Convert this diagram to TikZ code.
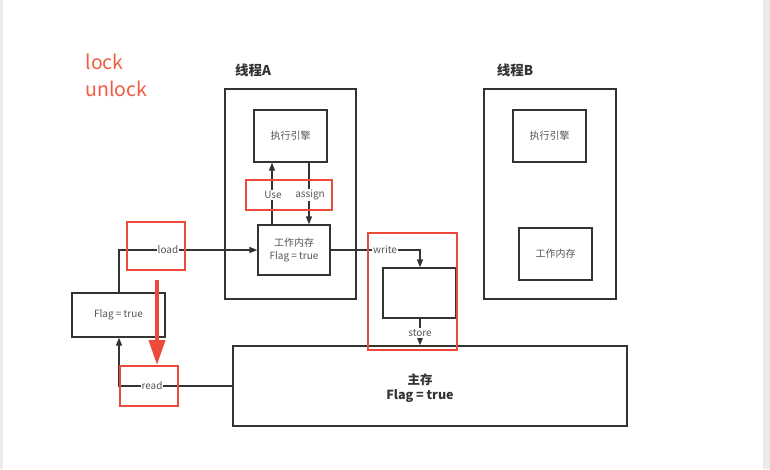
\documentclass[tikz,border=0pt]{standalone}
\usepackage{fontspec}
\setmainfont{Noto Sans CJK SC}
\usetikzlibrary{arrows.meta}
\definecolor{ln}{HTML}{333333}
\definecolor{tx}{HTML}{555555}
\definecolor{rd}{HTML}{EC4B3B}
\definecolor{lk}{HTML}{F25C45}
\definecolor{edge}{HTML}{EBEBEB}
\begin{document}
\begin{tikzpicture}[x=1pt,y=-1pt,
  box/.style={draw=ln,line width=1.3pt,rectangle,inner sep=0pt,align=center,text=tx,font=\fontsize{10}{12.5}\selectfont},
  redbox/.style={draw=rd,line width=2pt},
  conn/.style={draw=ln,line width=1.3pt},
  arr/.style={conn,-{Triangle[length=8pt,width=6pt]}},
  lbl/.style={fill=white,inner sep=1pt,text=tx,font=\fontsize{10}{12}\selectfont},
  ttl/.style={font=\fontsize{13.5}{16}\selectfont\bfseries,text=ln}]
\useasboundingbox (0,0) rectangle (770,469);
\fill[edge] (0,0) rectangle (770,469);
\fill[white] (3,0) rectangle (763,469);

% lock / unlock
\node[anchor=west,text=lk,font=\fontsize{19.5}{22}\selectfont] (lock) at (82,62) {lock};
\node[anchor=west,text=lk,font=\fontsize{19.5}{22}\selectfont] (unlock) at (82,89) {unlock};

% thread A
\node[ttl] (tA) at (253,70) {线程A};
\node[box,minimum width=131pt,minimum height=210pt] (threadA) at (290.5,194) {};
\node[box,minimum width=73pt,minimum height=52pt] (engA) at (290.5,136) {执行引擎};
\node[box,minimum width=72pt,minimum height=50pt] (wmA) at (294,250) {工作内存\\Flag = true};

% thread B
\node[ttl] (tB) at (515,70) {线程B};
\node[box,minimum width=132pt,minimum height=210pt] (threadB) at (550,194) {};
\node[box,minimum width=73pt,minimum height=52pt] (engB) at (549.5,136) {执行引擎};
\node[box,minimum width=73pt,minimum height=52pt] (wmB) at (555.5,254) {工作内存};

% left flag box
\node[box,minimum width=93pt,minimum height=44pt] (flag) at (118.5,315) {Flag = true};

% store box
\node[box,minimum width=73pt,minimum height=50pt] (st) at (419.5,293) {};

% main memory
\node[box,minimum width=394pt,minimum height=80pt] (main) at (430,386) {};
\node[align=center,text=ln,font=\fontsize{12.5}{15}\selectfont\bfseries] (mainT) at (420,388) {主存\\Flag = true};

% Use / assign
\draw[arr] (wmA.north -| 272,0) -- (engA.south -| 272,0);
\node[lbl] (use) at (273,195) {Use};
\draw[arr] (engA.south -| 309,0) -- (wmA.north -| 309,0);
\node[lbl] (assign) at (310,195) {assign};

% load
\coordinate (ldc) at (119,250);
\draw[arr] (flag.north -| ldc) -- (ldc) -- (wmA.west |- ldc);
\node[lbl] (load) at (168,250) {load};

% read
\coordinate (rdc) at (119,386);
\draw[arr] (main.west |- rdc) -- (rdc) -- (flag.south -| rdc);
\node[lbl] (read) at (152,386) {read};

% write
\coordinate (wrc) at (420,250);
\draw[arr] (wmA.east |- wrc) -- (wrc) -- (st.north -| wrc);
\node[lbl] (write) at (385,250) {write};

% store
\draw[arr] (st.south -| 420,0) -- (main.north -| 420,0);
\node[lbl] (store) at (420,333) {store};

% red boxes
\node[redbox,minimum width=86pt,minimum height=30pt] (rUse) at (289,195) {};
\node[redbox,minimum width=58pt,minimum height=48pt] (rLoad) at (156,246) {};
\node[redbox,minimum width=58pt,minimum height=40pt] (rRead) at (149,386) {};
\node[redbox,minimum width=89pt,minimum height=117pt] (rWS) at (412.5,291.5) {};

% big red arrow
\coordinate (ba) at (157,280);
\coordinate (bb) at (157,365);
\draw[draw=rd,line width=4pt,-{Triangle[length=25pt,width=16pt]}] (ba) -- (bb);
\end{tikzpicture}
\end{document}
